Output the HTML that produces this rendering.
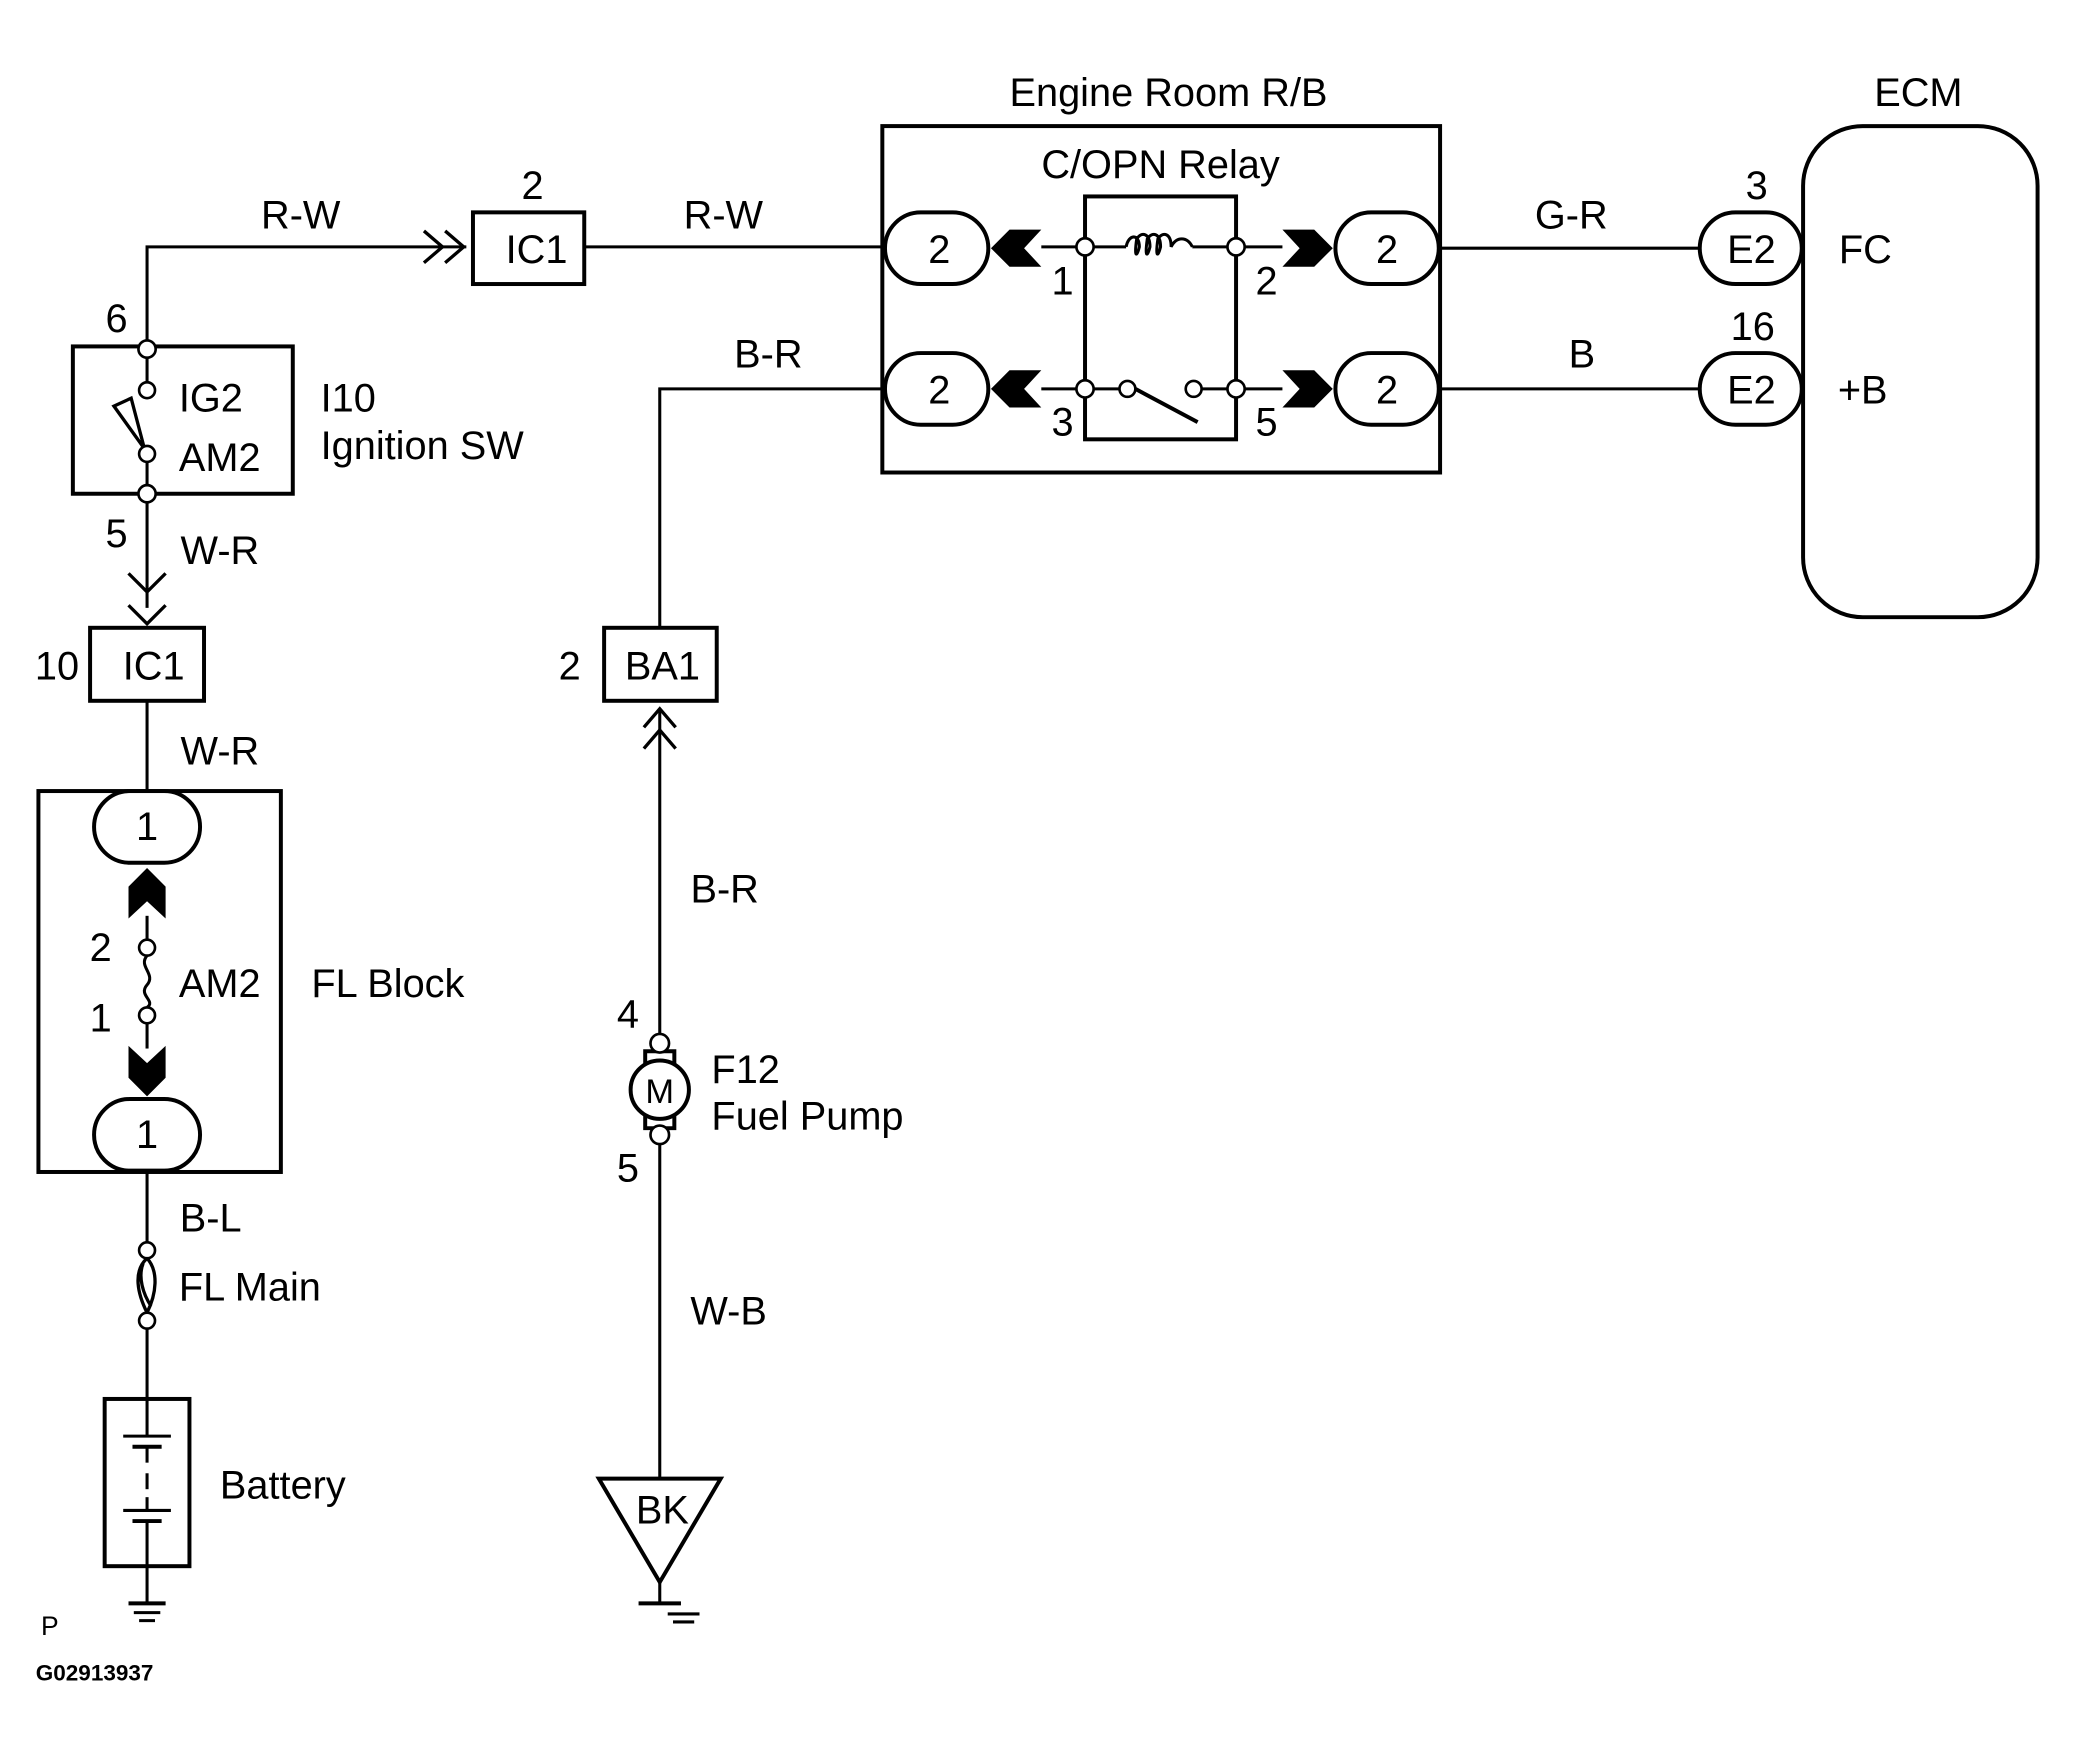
<!DOCTYPE html>
<html><head><meta charset="utf-8"><style>
html,body{margin:0;padding:0;background:#fff}
svg{display:block}
text{font-family:"Liberation Sans",Arial,sans-serif;font-size:30px;fill:#000}
</style></head><body>
<svg width="2076" height="1752" viewBox="0 0 1567 1320" preserveAspectRatio="none" xmlns="http://www.w3.org/2000/svg">
<g fill="none" stroke="#000" stroke-width="2.3">
<polyline points="111,263 111,186 352,186"/>
<polyline points="320,174 334,186 320,198" stroke-width="2.5"/>
<polyline points="336,174 350,186 336,198" stroke-width="2.5"/>
<rect x="357" y="160" width="84" height="54" stroke-width="3"/>
<line x1="441" y1="186" x2="668" y2="186"/>
<rect x="666" y="95" width="421" height="261" stroke-width="3"/>
<rect x="668" y="160" width="78" height="54" rx="27" stroke-width="3"/>
<rect x="668" y="266" width="78" height="54" rx="27" stroke-width="3"/>
<rect x="1008" y="160" width="78" height="54" rx="27" stroke-width="3"/>
<rect x="1008" y="266" width="78" height="54" rx="27" stroke-width="3"/>
<rect x="819" y="148" width="114" height="183" stroke-width="3"/>
<line x1="786" y1="186" x2="813" y2="186"/>
<line x1="825" y1="186" x2="850" y2="186"/>
<path d="M850,186 C852,176 860,176 860,186 C858,194 856,194 858,180 C862,174 868,176 868,186 C866,194 864,194 866,180 C870,174 876,176 876,186 C874,194 872,194 874,180 C878,174 884,176 884,186 C888,178 896,178 900,186"/>
<line x1="900" y1="186" x2="927" y2="186"/>
<line x1="939" y1="186" x2="968" y2="186"/>
<line x1="786" y1="293" x2="813" y2="293"/>
<line x1="825" y1="293" x2="845" y2="293"/>
<line x1="857" y1="293" x2="904" y2="318" stroke-width="3"/>
<line x1="907" y1="293" x2="927" y2="293"/>
<line x1="939" y1="293" x2="968" y2="293"/>
<line x1="1086" y1="187" x2="1283" y2="187"/>
<line x1="1086" y1="293" x2="1283" y2="293"/>
<rect x="1283" y="160" width="77" height="54" rx="27" stroke-width="3"/>
<rect x="1283" y="266" width="77" height="54" rx="27" stroke-width="3"/>
<rect x="1361" y="95" width="177" height="370" rx="45" stroke-width="3"/>
<polyline points="668,293 498,293 498,473"/>
<rect x="456" y="473" width="85" height="55" stroke-width="3"/>
<polyline points="486,548 498,534 510,548" stroke-width="2.5"/>
<polyline points="486,564 498,550 510,564" stroke-width="2.5"/>
<line x1="498" y1="536" x2="498" y2="780"/>
<circle cx="498" cy="821" r="22" stroke-width="3"/>
<path d="M487,802 V792 H509 V802 M487,840 V850 H509 V840" stroke-width="3"/>
<line x1="498" y1="861" x2="498" y2="1114"/>
<polygon points="452,1114 544,1114 498,1192" stroke-width="3"/>
<line x1="498" y1="1192" x2="498" y2="1208"/>
<line x1="482" y1="1208" x2="514" y2="1208" stroke-width="3"/>
<line x1="504" y1="1216" x2="528" y2="1216"/>
<line x1="508" y1="1222" x2="524" y2="1222"/>
<rect x="55" y="261" width="166" height="111" stroke-width="3"/>
<line x1="111" y1="269" x2="111" y2="288"/>
<line x1="111" y1="348" x2="111" y2="366"/>
<polygon points="86,306 99,300 109,338" stroke-width="2.5"/>
<line x1="111" y1="378" x2="111" y2="458"/>
<polyline points="97,432 111,446 125,432" stroke-width="2.5"/>
<polyline points="97,456 111,470 125,456" stroke-width="2.5"/>
<rect x="68" y="473" width="86" height="55" stroke-width="3"/>
<line x1="111" y1="528" x2="111" y2="596"/>
<rect x="29" y="596" width="183" height="287" stroke-width="3"/>
<rect x="71" y="596" width="80" height="54" rx="27" stroke-width="3"/>
<rect x="71" y="828" width="80" height="54" rx="27" stroke-width="3"/>
<line x1="111" y1="690" x2="111" y2="708"/>
<path d="M111,720 C104,728 118,734 111,742 C104,750 118,754 111,759"/>
<line x1="111" y1="771" x2="111" y2="790"/>
<line x1="111" y1="883" x2="111" y2="936"/>
<path d="M111,948 C100,958 104,975 111,989 M111,948 C120,958 118,975 111,989 M108,952 C104,962 108,975 114,984" stroke-width="2.5"/>
<line x1="111" y1="1001" x2="111" y2="1054"/>
<rect x="79" y="1054" width="64" height="126" stroke-width="3"/>
<line x1="111" y1="1054" x2="111" y2="1082"/>
<line x1="93" y1="1082" x2="129" y2="1082"/>
<line x1="100" y1="1090" x2="122" y2="1090" stroke-width="3"/>
<line x1="111" y1="1090" x2="111" y2="1102"/>
<line x1="111" y1="1110" x2="111" y2="1122"/>
<line x1="111" y1="1128" x2="111" y2="1138"/>
<line x1="93" y1="1138" x2="129" y2="1138"/>
<line x1="100" y1="1146" x2="122" y2="1146" stroke-width="3"/>
<line x1="111" y1="1146" x2="111" y2="1208"/>
<line x1="97" y1="1208" x2="125" y2="1208" stroke-width="3"/>
<line x1="101" y1="1215" x2="121" y2="1215"/>
<line x1="105" y1="1221" x2="117" y2="1221"/>
</g>
<g fill="#000">
<polygon points="748,187 762,173 786,173 773,187 786,201 762,201"/>
<polygon points="748,293 762,279 786,279 773,293 786,307 762,307"/>
<polygon points="1006,187 992,173 968,173 981,187 968,201 992,201"/>
<polygon points="1006,293 992,279 968,279 981,293 968,307 992,307"/>
<polygon points="111,654 97,668 97,692 111,679 125,692 125,668"/>
<polygon points="111,826 97,812 97,788 111,801 125,788 125,812"/>
</g>
<g fill="#fff" stroke="#000" stroke-width="2">
<circle cx="819" cy="186" r="6.5"/><circle cx="933" cy="186" r="6.5"/>
<circle cx="819" cy="293" r="6.5"/><circle cx="933" cy="293" r="6.5"/>
<circle cx="851" cy="293" r="6"/><circle cx="901" cy="293" r="6"/>
<circle cx="111" cy="263" r="6.5"/><circle cx="111" cy="294" r="6"/>
<circle cx="111" cy="342" r="6"/><circle cx="111" cy="372" r="6.5"/>
<circle cx="111" cy="714" r="6"/><circle cx="111" cy="765" r="6"/>
<circle cx="111" cy="942" r="6"/><circle cx="111" cy="995" r="6"/>
<circle cx="498" cy="786" r="7"/><circle cx="498" cy="855" r="7"/>
</g>
<g text-anchor="middle">
<text x="882" y="80">Engine Room R/B</text>
<text x="876" y="134">C/OPN Relay</text>
<text x="1448" y="80">ECM</text>
<text x="227" y="172">R-W</text>
<text x="546" y="172">R-W</text>
<text x="402" y="150">2</text>
<text x="405" y="198">IC1</text>
<text x="709" y="198">2</text><text x="709" y="304">2</text>
<text x="1047" y="198">2</text><text x="1047" y="304">2</text>
<text x="802" y="222">1</text><text x="956" y="222">2</text>
<text x="802" y="328">3</text><text x="956" y="328">5</text>
<text x="1186" y="172">G-R</text>
<text x="1194" y="277">B</text>
<text x="580" y="277">B-R</text>
<text x="1326" y="150">3</text>
<text x="1323" y="256">16</text>
<text x="1322" y="198">E2</text>
<text x="1322" y="304">E2</text>
<text x="1408" y="198">FC</text>
<text x="1406" y="304">+B</text>
<text x="88" y="250">6</text>
<text x="88" y="412">5</text>
<text x="166" y="425">W-R</text>
<text x="43" y="512">10</text>
<text x="116" y="512">IC1</text>
<text x="166" y="576">W-R</text>
<text x="430" y="512">2</text>
<text x="500" y="512">BA1</text>
<text x="547" y="680">B-R</text>
<text x="111" y="633">1</text>
<text x="111" y="865">1</text>
<text x="76" y="724">2</text>
<text x="76" y="777">1</text>
<text x="474" y="774">4</text>
<text x="474" y="890">5</text>
<text x="498" y="831" style="font-size:26px">M</text>
<text x="550" y="998">W-B</text>
<text x="500" y="1148">BK</text>
<text x="159" y="928">B-L</text>
</g>
<text x="135" y="310">IG2</text>
<text x="135" y="355">AM2</text>
<text x="242" y="310">I10</text>
<text x="242" y="346">Ignition SW</text>
<text x="135" y="751">AM2</text>
<text x="235" y="751">FL Block</text>
<text x="135" y="980">FL Main</text>
<text x="166" y="1129">Battery</text>
<text x="537" y="816">F12</text>
<text x="537" y="851">Fuel Pump</text>
<text x="31" y="1232" style="font-size:20px">P</text>
<text x="27" y="1266" style="font-size:17px;font-weight:bold">G02913937</text>
</svg>
</body></html>
